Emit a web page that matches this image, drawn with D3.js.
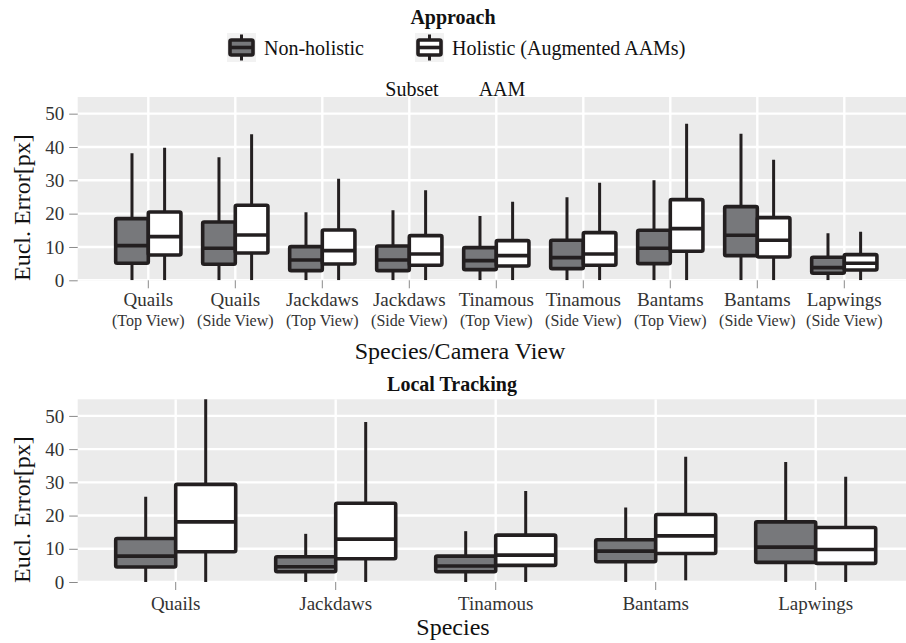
<!DOCTYPE html>
<html>
<head>
<meta charset="utf-8">
<script src="https://cdn.jsdelivr.net/npm/d3@7"></script>
<style>
  body { margin: 0; background: #fff; }
  svg { display: block; }
  svg text { font-family: "Liberation Serif", "Times New Roman", serif; }
</style>
</head>
<body>
<svg id="chart" width="906" height="643"></svg>
<script>
// --- data (box stats: [lower whisker, q1, median, q3, upper whisker]) ---
const approaches = ["Non-holistic", "Holistic (Augmented AAMs)"];

const aamSpecies = ["Quails", "Quails", "Jackdaws", "Jackdaws", "Tinamous", "Tinamous", "Bantams", "Bantams", "Lapwings"];
const aamViews = ["(Top View)", "(Side View)", "(Top View)", "(Side View)", "(Top View)", "(Side View)", "(Top View)", "(Side View)", "(Side View)"];

const aamNonHolistic = [
  [0, 5.1, 10.4, 18.5, 38.1],
  [0, 4.8, 9.6, 17.5, 36.9],
  [0, 2.9, 6.1, 10.1, 20.4],
  [0, 2.9, 6.1, 10.3, 21.0],
  [0, 3.2, 5.9, 9.8, 19.3],
  [0, 3.5, 6.8, 12.0, 24.9],
  [0, 5.0, 9.6, 15.0, 30.0],
  [0, 7.4, 13.5, 22.1, 44.0],
  [0, 2.1, 3.8, 6.9, 14.1]
];
const aamHolistic = [
  [0, 7.6, 13.1, 20.5, 39.8],
  [0, 8.2, 13.6, 22.5, 43.8],
  [0, 4.9, 8.9, 15.1, 30.5],
  [0, 4.5, 7.9, 13.4, 27.0],
  [0, 4.3, 7.4, 11.9, 23.6],
  [0, 4.5, 7.9, 14.3, 29.3],
  [0, 8.7, 15.5, 24.2, 47.0],
  [0, 7.0, 12.0, 18.8, 36.2],
  [0, 3.1, 5.1, 7.7, 14.6]
];

const trackSpecies = ["Quails", "Jackdaws", "Tinamous", "Bantams", "Lapwings"];
const trackNonHolistic = [
  [0, 4.5, 7.8, 13.1, 25.7],
  [0, 3.1, 4.6, 7.6, 14.5],
  [0, 3.1, 4.8, 7.8, 15.3],
  [0, 6.1, 9.3, 12.7, 22.4],
  [0, 5.9, 10.5, 18.1, 36.1]
];
const trackHolistic = [
  [0, 9.1, 18.1, 29.4, 62.0],
  [0, 7.0, 12.9, 23.7, 48.2],
  [0, 5.0, 8.1, 14.1, 27.4],
  [0.5, 8.6, 13.9, 20.3, 37.7],
  [0, 5.6, 9.8, 16.4, 31.7]
];

const yTicks = [0, 10, 20, 30, 40, 50];

// --- drawing ---
const svg = d3.select("#chart");
const fills = d3.scaleOrdinal().domain(approaches).range(["#77787b", "#ffffff"]);
const strokeCol = "#231f20";

function panel(opts) {
  const g = svg.append("g");
  const left = 77.7, right = 906;

  const x = d3.scaleBand()
    .domain(d3.range(opts.n))
    .range(opts.xRange);
  const dodge = d3.scaleBand()
    .domain(approaches)
    .range([-x.bandwidth() * 0.375, x.bandwidth() * 0.375]);
  const y = d3.scaleLinear().domain([0, 55]).range(opts.yRange);

  const clipId = "clip" + opts.id;
  svg.append("clipPath").attr("id", clipId)
    .append("rect")
    .attr("x", left).attr("y", y(55))
    .attr("width", right - left).attr("height", y(0) - y(55));

  g.append("rect")
    .attr("x", left).attr("y", y(55))
    .attr("width", right - left).attr("height", y(0) - y(55))
    .attr("fill", "#ebebeb");

  const grid = g.append("g").attr("clip-path", `url(#${clipId})`);
  grid.selectAll(".hgrid").data(yTicks).enter().append("line")
    .attr("x1", left).attr("x2", right)
    .attr("y1", d => y(d)).attr("y2", d => y(d))
    .attr("stroke", "#fff").attr("stroke-width", 2.4);
  grid.selectAll(".vgrid").data(d3.range(opts.n)).enter().append("line")
    .attr("x1", d => x(d) + x.bandwidth() / 2).attr("x2", d => x(d) + x.bandwidth() / 2)
    .attr("y1", y(55)).attr("y2", y(0))
    .attr("stroke", "#fff").attr("stroke-width", 2.4);

  // y axis
  const yAxis = g.append("g")
    .attr("transform", `translate(${left},0)`)
    .call(d3.axisLeft(y).tickValues(yTicks).tickSize(8.5).tickPadding(5))
    .attr("font-family", null).attr("font-size", null);
  yAxis.select(".domain").remove();
  yAxis.selectAll("line").attr("stroke", "#8a8a8a").attr("stroke-width", 1);
  yAxis.selectAll("text").attr("font-size", 19).attr("fill", "#333");

  // x axis
  const xAxis = g.append("g")
    .attr("transform", `translate(0,${y(0)})`)
    .call(d3.axisBottom(x).tickSize(8).tickFormat(""))
    .attr("font-family", null).attr("font-size", null);
  xAxis.select(".domain").remove();
  xAxis.selectAll("line").attr("stroke", "#8a8a8a").attr("stroke-width", 1);
  xAxis.selectAll(".tick text").remove();
  xAxis.selectAll(".tick").each(function(d) {
    const t = d3.select(this).append("text")
      .attr("text-anchor", "middle")
      .attr("fill", "#333");
    t.append("tspan").attr("x", 0).attr("y", opts.labelY).attr("font-size", 19).text(opts.labels[d]);
    if (opts.sub) {
      t.append("tspan").attr("x", 0).attr("y", opts.labelY + 20).attr("font-size", 16).text(opts.sub[d]);
    }
  });

  // boxes
  const boxes = g.append("g").attr("clip-path", `url(#${clipId})`);
  approaches.forEach((a, ai) => {
    const stats = opts.series[ai];
    const bw = dodge.bandwidth();
    stats.forEach((s, i) => {
      const cx = x(i) + x.bandwidth() / 2 + dodge(a) + bw / 2;
      const b = boxes.append("g");
      b.append("line")
        .attr("x1", cx).attr("x2", cx)
        .attr("y1", y(s[0])).attr("y2", y(s[4]))
        .attr("stroke", strokeCol).attr("stroke-width", 3);
      b.append("rect")
        .attr("x", cx - bw / 2).attr("width", bw)
        .attr("y", y(s[3])).attr("height", y(s[1]) - y(s[3]))
        .attr("fill", fills(a))
        .attr("stroke", strokeCol).attr("stroke-width", 3.6)
        .attr("rx", 1.5);
      b.append("line")
        .attr("x1", cx - bw / 2).attr("x2", cx + bw / 2)
        .attr("y1", y(s[2])).attr("y2", y(s[2]))
        .attr("stroke", strokeCol).attr("stroke-width", 3.6);
    });
  });

  // axis titles
  svg.append("text")
    .attr("transform", `translate(29.5,${(y(0) + y(55)) / 2 + 19}) rotate(-90)`)
    .attr("text-anchor", "middle")
    .attr("font-size", 24).attr("fill", "#111")
    .text("Eucl. Error[px]");
  svg.append("text")
    .attr("x", opts.titleX).attr("y", opts.titleY)
    .attr("text-anchor", "middle")
    .attr("font-size", 24).attr("fill", "#111")
    .text(opts.xTitle);
}

// top panel: AAM subset
panel({
  id: "aam",
  n: aamSpecies.length,
  xRange: [104.8, 104.8 + 87 * 9],
  yRange: [280.3, 97],
  labels: aamSpecies,
  sub: aamViews,
  labelY: 25.7,
  series: [aamNonHolistic, aamHolistic],
  xTitle: "Species/Camera View",
  titleX: 460, titleY: 359
});

// bottom panel: local tracking
panel({
  id: "track",
  n: trackSpecies.length,
  xRange: [95.7, 95.7 + 160 * 5],
  yRange: [582, 399.3],
  labels: trackSpecies,
  labelY: 28,
  series: [trackNonHolistic, trackHolistic],
  xTitle: "Species",
  titleX: 453, titleY: 635
});

// strip / titles
svg.append("text").attr("x", 412).attr("y", 95.5).attr("text-anchor", "middle")
  .attr("font-size", 20).attr("fill", "#111").text("Subset");
svg.append("text").attr("x", 502).attr("y", 95.5).attr("text-anchor", "middle")
  .attr("font-size", 20).attr("fill", "#111").text("AAM");
svg.append("text").attr("x", 452).attr("y", 390.5).attr("text-anchor", "middle")
  .attr("font-size", 20).attr("font-weight", "bold").attr("fill", "#111").text("Local Tracking");

// legend
svg.append("text").attr("x", 453).attr("y", 24).attr("text-anchor", "middle")
  .attr("font-size", 20).attr("font-weight", "bold").attr("fill", "#111").text("Approach");

const legendX = [227, 415];
const legend = svg.append("g");
approaches.forEach((a, i) => {
  const lg = legend.append("g").attr("transform", `translate(${legendX[i]},33)`);
  lg.append("rect").attr("width", 29).attr("height", 29).attr("fill", "#f2f2f2");
  lg.append("line").attr("x1", 14.5).attr("x2", 14.5).attr("y1", 1.5).attr("y2", 27.5)
    .attr("stroke", strokeCol).attr("stroke-width", 3);
  lg.append("rect").attr("x", 3).attr("y", 7).attr("width", 23).attr("height", 15)
    .attr("fill", fills(a)).attr("stroke", strokeCol).attr("stroke-width", 3.6).attr("rx", 1.5);
  lg.append("line").attr("x1", 3).attr("x2", 26).attr("y1", 14.5).attr("y2", 14.5)
    .attr("stroke", strokeCol).attr("stroke-width", 3.6);
  lg.append("text").attr("x", 37).attr("y", 21.5)
    .attr("font-size", 20).attr("fill", "#111").text(a);
});
</script>
</body>
</html>
